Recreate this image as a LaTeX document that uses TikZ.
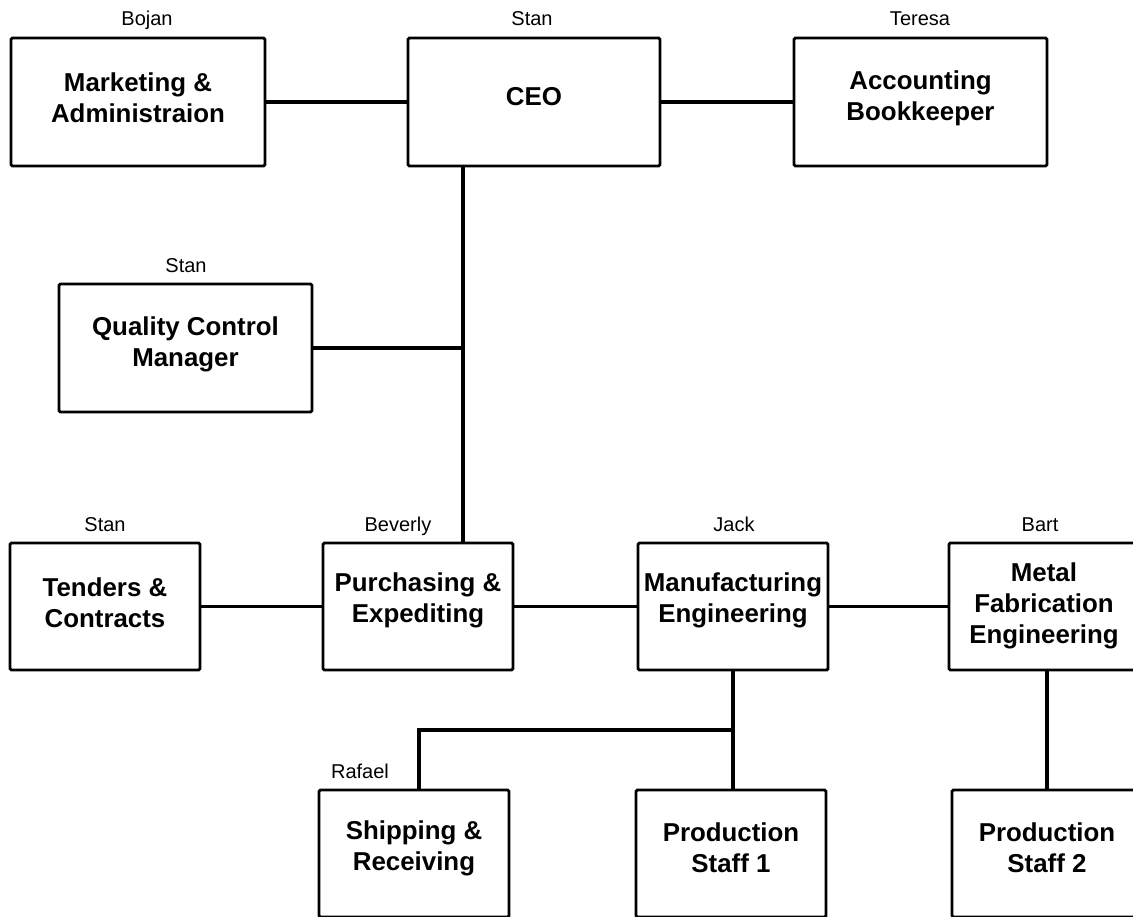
\documentclass[tikz,border=0pt]{standalone}
\usepackage{fontspec}
\setmainfont{Liberation Sans}
\begin{document}
\begin{tikzpicture}[x=0.75pt,y=-0.75pt,
  box/.style={draw=black,line width=2.2pt,rounded corners=1pt,fill=white,inner sep=0pt},
  btxt/.style={font=\fontsize{19.4}{23.25}\selectfont\bfseries,align=center,inner sep=0pt},
  who/.style={font=\fontsize{15}{18}\selectfont,anchor=base,inner sep=0pt},
  link/.style={draw=black,line width=2.4pt}]
\useasboundingbox (0,0) rectangle (1133,917);
\clip (0,0) rectangle (1133,917);
% boxes
\node[box,minimum width=190.5pt,minimum height=96pt] (mkt) at (138,102) {};
\node[box,minimum width=189pt,minimum height=96pt] (ceo) at (534,102) {};
\node[box,minimum width=189.75pt,minimum height=96pt] (acc) at (920.5,102) {};
\node[box,minimum width=189.75pt,minimum height=96pt] (qc) at (185.5,348) {};
\node[box,minimum width=142.5pt,minimum height=95.25pt] (ten) at (105,606.5) {};
\node[box,minimum width=142.5pt,minimum height=95.25pt] (pur) at (418,606.5) {};
\node[box,minimum width=142.5pt,minimum height=95.25pt] (man) at (733,606.5) {};
\node[box,minimum width=142.5pt,minimum height=95.25pt] (met) at (1044,606.5) {};
\node[box,minimum width=142.5pt,minimum height=95.25pt] (shp) at (414,853.5) {};
\node[box,minimum width=142.5pt,minimum height=95.25pt] (ps1) at (731,853.5) {};
\node[box,minimum width=142.5pt,minimum height=95.25pt] (ps2) at (1047,853.5) {};
% box texts
\node[btxt] (mktt) at (138,98) {Marketing \&\\Administraion};
\node[btxt] (ceot) at (534,97) {CEO};
\node[btxt] (acct) at (920.5,98) {Accounting\\Bookkeeper};
\node[btxt] (qct) at (185.5,344) {Quality Control\\Manager};
\node[btxt] (tent) at (105,603) {Tenders \&\\Contracts};
\node[btxt] (purt) at (418,600) {Purchasing \&\\Expediting};
\node[btxt] (mant) at (733,600) {Manufacturing\\Engineering};
\node[btxt] (mett) at (1044,606) {Metal\\Fabrication\\Engineering};
\node[btxt] (shpt) at (414,848) {Shipping \&\\Receiving};
\node[btxt] (ps1t) at (731,848) {Production\\Staff 1};
\node[btxt] (ps2t) at (1047,848) {Production\\Staff 2};
% names
\node[who] (n1) at (147,26) {Bojan};
\node[who] (n2) at (532,26) {Stan};
\node[who] (n3) at (920,26) {Teresa};
\node[who] (n4) at (186,272) {Stan};
\node[who] (n5) at (105,531) {Stan};
\node[who] (n6) at (398,531) {Beverly};
\node[who] (n7) at (734,531) {Jack};
\node[who] (n8) at (1040,531) {Bart};
\node[who] (n9) at (360,778) {Rafael};
% connectors
\coordinate (spine) at (463,0);
\coordinate (bus) at (0,730);
\coordinate (shx) at (419,0);
\draw[link] (mkt.east) -- (ceo.west);
\draw[link] (ceo.east) -- (acc.west);
\draw[link] (spine |- ceo.south) -- (spine |- pur.north);
\draw[link] (qc.east) -- (qc.east -| spine);
\draw[link] (ten.east) -- (pur.west);
\draw[link] (pur.east) -- (man.west);
\draw[link] (man.east) -- (met.west);
\draw[link] (man.south) -- (man.south |- ps1.north);
\draw[link] (man.south |- bus) -- (shx |- bus) -- (shx |- shp.north);
\draw[link] (ps2.north) -- (ps2.north |- met.south);
\end{tikzpicture}
\end{document}
